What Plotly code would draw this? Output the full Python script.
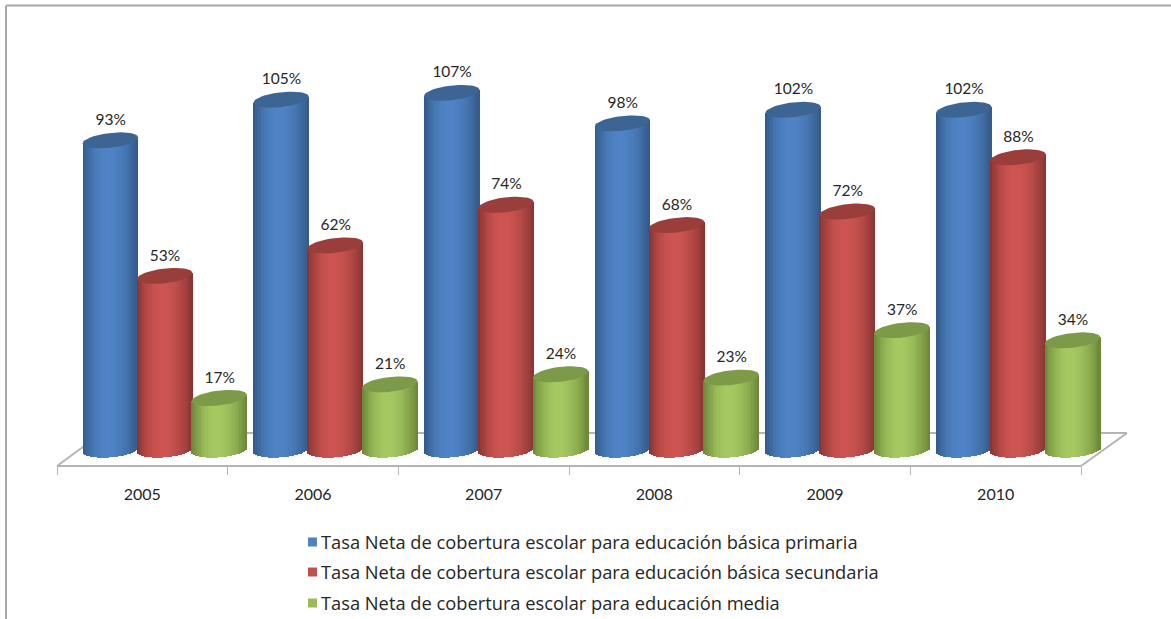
import math
import plotly.graph_objects as go

years = ["2005", "2006", "2007", "2008", "2009", "2010"]
primaria = [93, 105, 107, 98, 102, 102]
secundaria = [53, 62, 74, 68, 72, 88]
media = [17, 21, 24, 23, 37, 34]

names = ["Tasa Neta de cobertura escolar para educación básica primaria",
         "Tasa Neta de cobertura escolar para educación básica secundaria",
         "Tasa Neta de cobertura escolar para educación media"]
values = [primaria, secundaria, media]
offsets = [-0.187, 0.131, 0.451]
flat = ["#4f81bd", "#c0504d", "#9bbb59"]
edge = [(50, 88, 135), (134, 52, 50), (106, 132, 56)]
mid = [(79, 131, 197), (205, 84, 81), (165, 200, 96)]
top = ["#3d6594", "#9a3e3b", "#7c9a47"]

W, H = 1171, 619
PX_PER_PCT = 3.39
ZERO_PX = 455.6
AXIS_PX = 466
AXIS_L_PX, AXIS_R_PX = 57, 1081
PLOT_R_PX = 1130
BAR_WIDTH = 0.324
NSTRIPS = 30
SHEAR = 3.0
RY = 7.4
BOTTOM_PX = 450
FONT = "Lato"
LEGEND_FONT = "Open Sans"
INK = "#262626"
GRID = "#b4b4b4"
UNIT_PX = (AXIS_R_PX - AXIS_L_PX) / len(years)


def lerp(a, b, f):
    return tuple(round(a[k] + (b[k] - a[k]) * f) for k in range(3))


def strip_color(s, u):
    peak = -0.1
    d = (peak - u) / (1 + peak) if u < peak else (u - peak) / (1 - peak)
    f = min(1, d ** 2.0)
    c = lerp(mid[s], edge[s], f)
    return f"rgb({c[0]},{c[1]},{c[2]})"


fig = go.Figure()
for s, vals in enumerate(values):
    for k in range(NSTRIPS):
        u = -1 + (k + 0.5) * 2 / NSTRIPS
        base_px = BOTTOM_PX - SHEAR * 0.7 * u + RY * math.sqrt(max(0, 1 - u * u))
        base = (ZERO_PX - base_px) / PX_PER_PCT
        tops = [v + SHEAR * u / PX_PER_PCT for v in vals]
        fig.add_bar(
            x=[i + offsets[s] + u * BAR_WIDTH / 2 for i in range(len(vals))],
            y=[t - base for t in tops],
            base=[base] * len(vals),
            width=BAR_WIDTH / NSTRIPS * 1.25,
            marker=dict(color=strip_color(s, u), line=dict(width=0)),
            showlegend=False,
            hoverinfo="skip",
        )

for s, vals in enumerate(values):
    for i, v in enumerate(vals):
        ts = [2 * math.pi * j / 48 for j in range(49)]
        fig.add_scatter(
            x=[i + offsets[s] + BAR_WIDTH / 2 * math.cos(t) for t in ts],
            y=[v + (SHEAR * math.cos(t) + RY * math.sin(t)) / PX_PER_PCT for t in ts],
            mode="lines", fill="toself", fillcolor=top[s],
            line=dict(width=0, color=top[s]),
            showlegend=False, hoverinfo="skip",
        )

for s, vals in enumerate(values):
    fig.add_scatter(
        x=[i + offsets[s] + 0.002 for i in range(len(vals))],
        y=[v + 11.5 / PX_PER_PCT for v in vals],
        mode="text", text=[f"{v}%" for v in vals], textposition="top center",
        textfont=dict(family=FONT, size=15.5, color=INK),
        showlegend=False, hoverinfo="skip",
    )

for s, nm in enumerate(names):
    fig.add_scatter(
        x=[None], y=[None], mode="markers", name=nm, legendgroup=nm,
        marker=dict(symbol="square", size=9, color="rgba(0,0,0,0)"),
    )


def px(x):
    return x / W


def py(y):
    return 1 - y / H


floor = dict(type="line", xref="paper", yref="paper", layer="below",
             line=dict(color=GRID, width=2))
shapes = [
    dict(floor, x0=px(AXIS_L_PX), y0=py(AXIS_PX), x1=px(AXIS_R_PX), y1=py(AXIS_PX)),
    dict(floor, x0=px(AXIS_L_PX), y0=py(AXIS_PX), x1=px(102), y1=py(433)),
    dict(floor, x0=px(102), y0=py(433), x1=px(1127), y1=py(433)),
    dict(floor, x0=px(1127), y0=py(433), x1=px(AXIS_R_PX), y1=py(AXIS_PX)),
    dict(type="line", xref="paper", yref="paper", layer="above",
         x0=px(6), y0=py(619), x1=px(6), y1=py(5.5),
         line=dict(color="#a8a8a8", width=2)),
    dict(type="line", xref="paper", yref="paper", layer="above",
         x0=px(6), y0=py(5.5), x1=px(1171), y1=py(5.5),
         line=dict(color="#a8a8a8", width=2)),
]
for s, cy in enumerate([542, 572, 603]):
    shapes.append(dict(type="rect", xref="paper", yref="paper", layer="above",
                       x0=px(308), x1=px(317), y0=py(cy - 4.5), y1=py(cy + 4.5),
                       fillcolor=flat[s], line=dict(width=0)))

fig.update_layout(
    width=W, height=H, autosize=False,
    margin=dict(l=0, r=0, t=0, b=0, autoexpand=False),
    paper_bgcolor="white", plot_bgcolor="white",
    barmode="overlay", bargap=0,
    shapes=shapes,
    font=dict(family=FONT, color=INK),
    xaxis=dict(
        domain=[AXIS_L_PX / W, PLOT_R_PX / W],
        range=[-0.5, -0.5 + (PLOT_R_PX - AXIS_L_PX) / UNIT_PX],
        tickmode="array", tickvals=list(range(len(years))), ticktext=years,
        ticks="", showgrid=False, zeroline=False, showline=False,
        tickfont=dict(family=FONT, size=16, color=INK),
        ticklabelstandoff=17,
        minor=dict(tickmode="array", tickvals=[i - 0.5 for i in range(len(years) + 1)],
                   ticks="outside", ticklen=8, tickcolor=GRID, tickwidth=1, showgrid=False),
    ),
    yaxis=dict(
        domain=[(H - AXIS_PX) / H, 1],
        range=[(ZERO_PX - AXIS_PX) / PX_PER_PCT, ZERO_PX / PX_PER_PCT],
        visible=False,
    ),
    legend=dict(
        x=281 / W, y=py(523), xanchor="left", yanchor="top",
        font=dict(family=LEGEND_FONT, size=18.3, color=INK),
        tracegroupgap=4, itemclick=False, itemdoubleclick=False,
        bgcolor="rgba(0,0,0,0)",
    ),
)

fig.write_html("out.html", config={"displayModeBar": False},
               post_script="document.body.style.margin='0';")
